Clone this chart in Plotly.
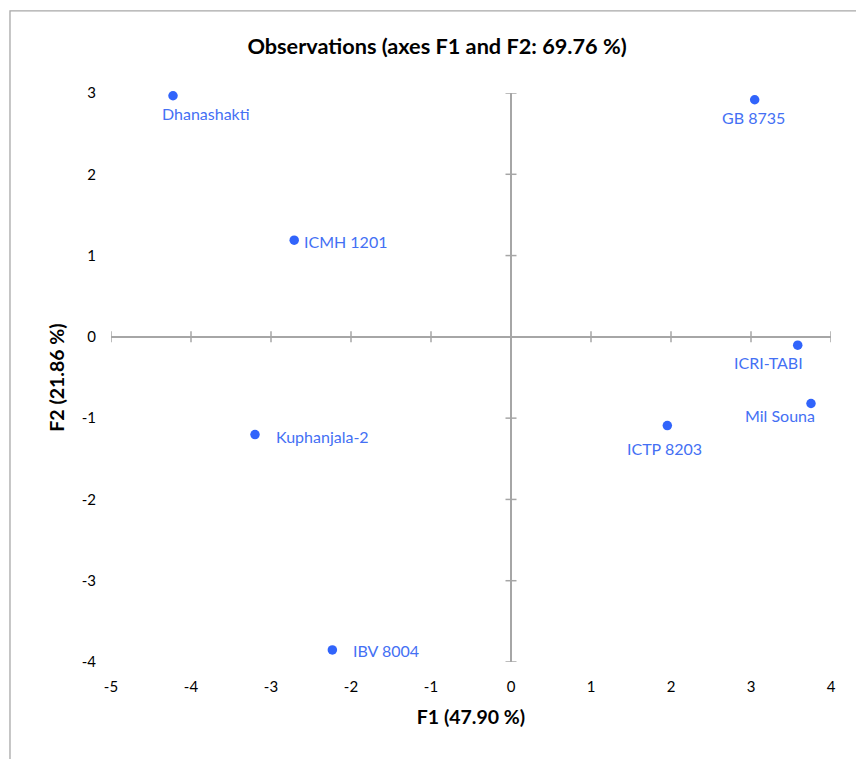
import plotly.graph_objects as go

# ---- data ----
names = ["Dhanashakti", "GB 8735", "ICMH 1201", "ICRI-TABI", "Mil Souna",
         "ICTP 8203", "Kuphanjala-2", "IBV 8004"]
f1 = [-4.225, 3.046, -2.71, 3.584, 3.75, 1.954, -3.20, -2.233]
f2 = [2.966, 2.917, 1.19, -0.102, -0.820, -1.091, -1.202, -3.852]
x_ticks = [-5, -4, -3, -2, -1, 0, 1, 2, 3, 4]
x_tick_text = ["-5", "-4", "-3", "-2", "-1", "0", "1", "2", "3", "4"]
y_ticks = [-4, -3, -2, -1, 0, 1, 2, 3]
y_tick_text = ["-4", "-3", "-2", "-1", "0", "1", "2", "3"]

# label placement styles (pixel offsets, anchor)
label_style = {
    "Dhanashakti": (33, -18, "center"),
    "GB 8735": (-1, -18, "center"),
    "ICMH 1201": (8, -1.5, "left"),
    "ICRI-TABI": (-29, -17, "center"),
    "Mil Souna": (-31.5, -12, "center"),
    "ICTP 8203": (-3, -23, "center"),
    "Kuphanjala-2": (19, -2, "left"),
    "IBV 8004": (19, -0.5, "left"),
}

FONT = "Lato"
AXIS_COL = "#a6a6a6"
PT_COL = "#3164fb"
LBL_COL = "#4470f4"

fig = go.Figure()
fig.add_trace(go.Scatter(
    x=f1, y=f2, mode="markers", cliponaxis=False,
    marker=dict(size=9.5, color=PT_COL),
    hoverinfo="text", text=names, showlegend=False,
))

for n, x, y in zip(names, f1, f2):
    dx, dy, anc = label_style[n]
    fig.add_annotation(x=x, y=y, text=n, showarrow=False,
                       xanchor=anc, yanchor="middle", xshift=dx, yshift=dy,
                       font=dict(family=FONT, size=16, color=LBL_COL))

# cross tick marks on the zero axes
for t in x_ticks:
    fig.add_shape(type="line", xref="x", yref="y", x0=t, x1=t,
                  ysizemode="pixel", yanchor=0, y0=-5.5, y1=5.5,
                  line=dict(color=AXIS_COL, width=1.5), layer="below")
for t in y_ticks:
    fig.add_shape(type="line", xref="x", yref="y", y0=t, y1=t,
                  xsizemode="pixel", xanchor=0, x0=-5.5, x1=5.5,
                  line=dict(color=AXIS_COL, width=1.5), layer="below")

# chart border (extends beyond the visible area on right/bottom)
fig.add_shape(type="rect", xref="paper", yref="paper",
              x0=-0.1403, x1=1.5, y0=-0.5, y1=1.1445,
              line=dict(color="#a8a8a8", width=1.3), layer="below")

fig.update_layout(
    width=856, height=759,
    margin=dict(l=111, r=25, t=93, b=97),
    paper_bgcolor="white", plot_bgcolor="white",
    font=dict(family=FONT, size=15, color="#000000"),
    title=dict(text="<b>Observations (axes F1 and F2: 69.76 %)</b>",
               x=437 / 856, xref="container", xanchor="center",
               y=1 - 46 / 759, yref="container", yanchor="middle",
               font=dict(family=FONT, size=21.7, color="#000000")),
    xaxis=dict(range=[-5, 4], tickvals=x_ticks, ticktext=x_tick_text,
               showgrid=False,
               zeroline=True, zerolinecolor=AXIS_COL, zerolinewidth=1.5,
               showline=False, ticks="", ticklabelstandoff=14,
               tickfont=dict(family=FONT, size=15, color="#000"),
               title=dict(text="<b>F1 (47.90 %)</b>", standoff=16,
                          font=dict(family=FONT, size=19.5, color="#000"))),
    yaxis=dict(range=[-4, 3], tickvals=y_ticks, ticktext=y_tick_text,
               showgrid=False,
               zeroline=True, zerolinecolor=AXIS_COL, zerolinewidth=1.5,
               showline=False, ticks="", ticklabelstandoff=14,
               tickfont=dict(family=FONT, size=15, color="#000"),
               title=dict(text="<b>F2 (21.86 %)</b>", standoff=11,
                          font=dict(family=FONT, size=19.5, color="#000"))),
)

fig.write_html("out.html")
